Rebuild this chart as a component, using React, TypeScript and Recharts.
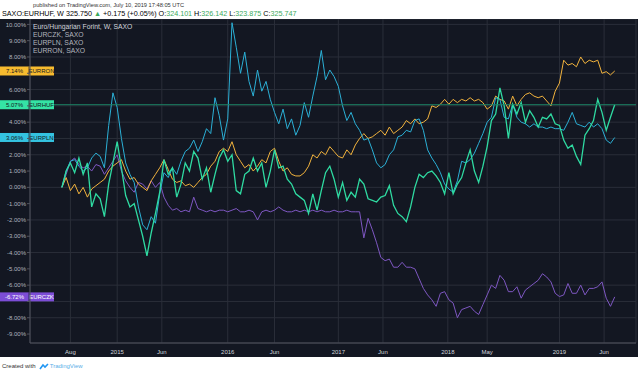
import React from 'react';
import { LineChart, Line, XAxis, YAxis, CartesianGrid, ReferenceLine } from 'recharts';

// weekly bars, one point every 2 weeks from mid July 2014
const weeks = Array.from({ length: 131 }, (_, i) => i * 2);

const eurhuf = [
  0.0, 1.0, 1.5, 0.9, 1.8, 0.8, 1.5, -1.2, -0.4, -0.7,
  -1.8, 0.2, 1.5, 2.8, 1.2, -0.5, -1.2, -1.0, -2.0, -3.0,
  -4.2, -2.8, -1.6, -0.3, 1.7, 0.8, 1.2, -0.6, 0.2, 1.5,
  1.0, 2.2, 1.8, 0.5, 1.2, -0.3, 0.8, 1.8, 2.3, 1.6,
  2.0, -0.2, -0.4, 0.8, 1.0, 1.8, 1.0, 1.5, 0.0, 1.0,
  2.3, 1.2, 1.3, 0.5, 0.2, -0.4, -0.6, -0.8, -1.6, -0.4,
  -1.4, -0.2, 0.9, 1.3, 0.5, -0.6, 0.3, -0.8, -0.3, -0.6,
  0.5, 0.2, -0.7, -0.8, -0.9, -0.6, -0.5, 0.1, -1.1, -1.6,
  -1.8, -2.1, -1.2, 0.0, 0.8, 0.6, 0.9, 1.0, 0.7, 0.3,
  -0.4, 0.9, -0.4, 0.2, 0.6, 1.5, 2.3, 1.0, 0.3, 1.3,
  2.5, 4.1, 4.5, 6.1, 5.0, 3.0, 5.1, 4.5, 5.2, 4.0,
  4.7, 4.3, 3.7, 4.3, 4.2, 4.5, 3.9, 3.8, 2.9, 2.4,
  2.6, 1.9, 1.4, 3.2, 3.6, 4.1, 5.4, 4.6, 3.5, 4.3,
  5.07,
];

const eurron = [
  0.0, 0.6, -0.2, 0.2, -0.4, 0.0, -0.6, -0.1, 0.1, 0.3,
  0.5, 1.0, 1.3, 1.5, 1.7, 1.0, 0.5, 0.6, 0.2, 0.0,
  -0.2, 0.4, 0.8, 1.2, 1.7, 1.1, 0.5, 0.3, 0.4, 0.1,
  0.2, 0.0, 0.3, 0.6, 0.8, 1.3, 1.6, 2.2, 2.4, 2.2,
  2.8, 2.0, 1.6, 1.2, 1.4, 1.0, 1.3, 1.7, 1.5, 2.2,
  2.4, 1.6, 1.0, 1.2, 0.8, 0.7, 0.7, 0.9, 1.3, 2.0,
  1.8, 2.2, 2.0, 2.5, 2.2, 1.9, 1.8, 2.3, 2.0, 2.6,
  3.0, 3.3, 3.0, 3.1, 3.3, 3.5, 3.2, 3.7, 3.3, 3.5,
  3.7, 4.1, 3.9, 4.2, 3.9, 4.0, 4.2, 5.0, 4.9, 5.1,
  5.4, 5.1, 5.4, 5.2, 5.4, 5.3, 5.5, 5.3, 5.4, 5.2,
  4.8, 5.0, 5.6, 5.4, 5.3, 4.8, 5.6, 5.0, 5.4, 5.7,
  5.8, 5.6, 5.5, 5.6, 5.3, 5.0, 5.9, 6.4, 7.8, 7.5,
  7.6, 7.4, 8.0, 7.6, 7.8, 7.7, 7.8, 7.0, 7.1, 6.9,
  7.14,
];

const eurpln = [
  0.0, 1.0, 1.6, 1.7, 1.3, 1.0, 1.2, 1.8, 2.1, 1.9,
  1.2, 3.8, 5.8, 4.9, 3.0, 1.5, 0.8, 0.3, -1.2, -2.3,
  -2.6, -1.8, -2.2, -0.4, 0.9, 0.6, 1.2, 0.8, 1.6, 2.2,
  2.4, 2.9, 2.2, 2.8, 3.6, 3.3, 5.5, 4.4, 2.9, 4.2,
  10.1, 8.6, 7.0, 8.3, 6.5, 5.6, 7.2, 5.9, 6.5, 5.4,
  4.6, 3.9, 4.8, 3.6, 4.2, 3.2, 3.8, 5.2, 4.3, 5.6,
  6.8, 8.4, 6.6, 7.2, 6.8, 6.2, 5.0, 4.1, 4.6, 3.9,
  3.5, 2.9, 3.0, 2.3, 1.5, 1.2, 1.4, 2.0, 2.3, 3.1,
  3.2, 3.5, 3.4, 4.1, 4.2, 3.5, 2.3, 1.8, 1.4, 0.9,
  0.2, -0.1, -0.3, 0.4, 1.6, 1.5, 1.7, 2.1, 2.7, 3.3,
  4.0, 4.3, 5.5, 5.4, 4.3, 4.2, 5.1, 4.3, 4.0, 3.9,
  3.7, 3.9, 3.7, 3.7, 3.6, 3.7, 3.6, 3.6, 3.5, 4.0,
  4.6, 3.9, 3.8, 3.7, 4.0, 3.7, 3.9, 3.6, 2.9, 2.7,
  3.06,
];

const eurczk = [
  0.0, 0.8, 1.6, 1.8, 1.4, 1.2, 1.3, 1.0, 1.4, 1.3,
  0.8, 1.2, 1.6, 2.0, 1.0, 0.4, 0.0, -0.3, 0.3, 0.2,
  -0.1, 0.4, 0.0, 0.3, -0.6, -1.1, -1.4, -1.3, -1.5, -1.4,
  -1.5, -0.6, -1.3, -1.4, -1.5, -1.4, -1.5, -1.4, -1.4, -1.5,
  -1.4, -1.3, -1.5, -1.5, -1.4, -1.5, -2.0, -1.5, -1.4, -1.5,
  -1.4, -1.2, -1.4, -1.5, -1.5, -1.4, -1.5, -1.4, -1.5, -1.4,
  -1.5, -1.4, -1.5, -1.5, -1.4, -1.5, -1.5, -1.4, -1.5, -1.5,
  -1.5, -3.1, -1.9, -2.6, -3.4, -4.3, -4.5, -4.4, -4.9, -4.9,
  -4.6, -4.9, -4.9, -5.0, -5.6, -6.2, -6.6, -6.9, -7.3, -6.5,
  -6.4, -6.9, -7.1, -8.0, -7.5, -7.4, -7.3, -7.6, -7.8, -7.2,
  -6.6, -6.0, -6.2, -5.4, -5.7, -6.4, -6.4, -6.1, -6.8, -6.3,
  -6.1, -5.9, -5.7, -5.3, -5.5, -5.8, -6.5, -6.7, -6.6, -5.9,
  -6.5, -6.5, -6.0, -6.6, -6.2, -6.2, -6.1, -5.8, -6.8, -7.3,
  -6.72,
];

const xTickWeeks = [4, 26, 47, 78, 100, 130, 151, 181.5, 200, 234, 255];
const xTickLabels = ['Aug', '2015', 'Jun', '2016', 'Jun', '2017', 'Jun', '2018', 'May', '2019', 'Jun'];
const yTicks = [-9, -8, -7, -6, -5, -4, -3, -2, -1, 0, 1, 2, 3, 4, 5, 6, 7, 8, 9, 10];

const legendLines = ['Euro/Hungarian Forint, W, SAXO', 'EURCZK, SAXO', 'EURPLN, SAXO', 'EURRON, SAXO'];

const BG = '#131722';
const GRID = '#2a2e39';
const C_HUF = '#2fdba2';
const C_RON = '#f2b33d';
const C_PLN = '#2bb0d6';
const C_CZK = '#7e57c2';

const rows = weeks.map((w, i) => ({
  week: w,
  EURHUF: eurhuf[i],
  EURRON: eurron[i],
  EURPLN: eurpln[i],
  EURCZK: eurczk[i],
}));

const tags = [
  { name: 'EURRON', data: eurron, bg: '#f7bb2f', fg: '#131722', line: 'none' },
  { name: 'EURHUF', data: eurhuf, bg: '#35e3a5', fg: '#131722', line: '#1c8466' },
  { name: 'EURPLN', data: eurpln, bg: '#34c3e0', fg: '#131722', line: 'none' },
  { name: 'EURCZK', data: eurczk, bg: '#7c4dd6', fg: '#ffffff', line: 'none' },
];
const lastValues = tags.map((t) => t.data[t.data.length - 1]);

const FONT = '"Liberation Sans", Arial, sans-serif';

// axis labels that sit under a price tag are covered in the original
const yLabel = (v: number) => (lastValues.some((l) => Math.abs(l - v) < 0.5) ? '' : v.toFixed(2) + '%');

const PriceTag = (props: any) => {
  const { viewBox, name, value, bg, fg } = props;
  const left = viewBox.x - 30;
  const y = viewBox.y;
  return (
    <g>
      <rect x={left} y={y - 4.5} width={54} height={9} fill={bg} />
      <line x1={left + 29} x2={left + 29} y1={y - 4.5} y2={y + 4.5} stroke={BG} strokeWidth={0.7} />
      <text x={left + 14.5} y={y + 2.2} textAnchor="middle" fontSize={6} fill={fg} fontFamily={FONT}>
        {value.toFixed(2)}%
      </text>
      <text x={left + 41.5} y={y + 2.2} textAnchor="middle" fontSize={6} fill={fg} fontFamily={FONT}>
        {name}
      </text>
    </g>
  );
};

const green = '#3aa95d';

export default function App() {
  return (
    <div style={{ position: 'absolute', left: 0, top: 0, width: 640, height: 373, background: '#fff', fontFamily: FONT, overflow: 'hidden' }}>
      <div style={{ position: 'absolute', left: 33, top: 1, fontSize: 5.7, lineHeight: '8px', color: '#333', whiteSpace: 'nowrap' }}>
        published on TradingView.com, July 10, 2019 17:48:05 UTC
      </div>
      <div style={{ position: 'absolute', left: 2, top: 10, fontSize: 7.2, lineHeight: '8px', color: '#000', whiteSpace: 'nowrap' }}>
        SAXO:EURHUF, W 325.750 <span style={{ color: green }}>▲</span> +0.175 (+0.05%) O:<span style={{ color: green }}>324.101</span> H:
        <span style={{ color: green }}>326.142</span> L:<span style={{ color: green }}>323.875</span> C:
        <span style={{ color: green }}>325.747</span>
      </div>

      <div style={{ position: 'absolute', left: 0, top: 19, width: 638, height: 338, background: BG }}>
        <LineChart width={638} height={338} data={rows} margin={{ top: 0, right: 2, left: 0, bottom: 0 }}>
          <CartesianGrid stroke={GRID} strokeWidth={1} />
          <XAxis
            dataKey="week"
            type="number"
            domain={[-15, 270]}
            allowDataOverflow
            ticks={xTickWeeks}
            tickFormatter={(v: number) => xTickLabels[xTickWeeks.indexOf(v)] ?? ''}
            height={14}
            axisLine={{ stroke: '#50535e' }}
            tickLine={false}
            tick={{ fill: '#d1d4dc', fontSize: 6, fontFamily: FONT }}
            tickMargin={1}
          />
          <YAxis
            type="number"
            domain={[-9.55, 10.33]}
            allowDataOverflow
            ticks={yTicks}
            width={30}
            axisLine={{ stroke: '#50535e' }}
            tickLine={{ stroke: '#50535e' }}
            tickSize={3}
            tickMargin={1}
            tick={{ fill: '#b2b5be', fontSize: 6, fontFamily: FONT }}
            tickFormatter={yLabel}
          />
          <Line dataKey="EURCZK" stroke={C_CZK} strokeWidth={1} dot={false} isAnimationActive={false} />
          <Line dataKey="EURRON" stroke={C_RON} strokeWidth={1} dot={false} isAnimationActive={false} />
          <Line dataKey="EURPLN" stroke={C_PLN} strokeWidth={1} dot={false} isAnimationActive={false} />
          <Line dataKey="EURHUF" stroke={C_HUF} strokeWidth={1.3} dot={false} isAnimationActive={false} />
          {tags.map((t, i) => (
            <ReferenceLine
              key={t.name}
              y={lastValues[i]}
              stroke={t.line}
              strokeWidth={1}
              label={(p: any) => <PriceTag {...p} name={t.name} value={lastValues[i]} bg={t.bg} fg={t.fg} />}
            />
          ))}
        </LineChart>
        {legendLines.map((s, i) => (
          <div
            key={s}
            style={{ position: 'absolute', left: 33, top: 4 + i * 8, fontSize: 6.8, lineHeight: '8px', color: i === 0 ? '#d1d4dc' : '#b2b5be', whiteSpace: 'nowrap' }}
          >
            {s}
          </div>
        ))}
      </div>

      <div style={{ position: 'absolute', left: 2, top: 362, fontSize: 6, lineHeight: '8px', color: '#333', whiteSpace: 'nowrap', display: 'flex', alignItems: 'center' }}>
        Created with
        <svg width={10} height={7} style={{ marginLeft: 3, marginRight: 1 }}>
          <path d="M1 6 L4 2 L6 4 L9 1" stroke="#2196f3" strokeWidth={1.6} fill="none" />
        </svg>
        <span style={{ color: '#5aaee8' }}>TradingView</span>
      </div>
    </div>
  );
}
